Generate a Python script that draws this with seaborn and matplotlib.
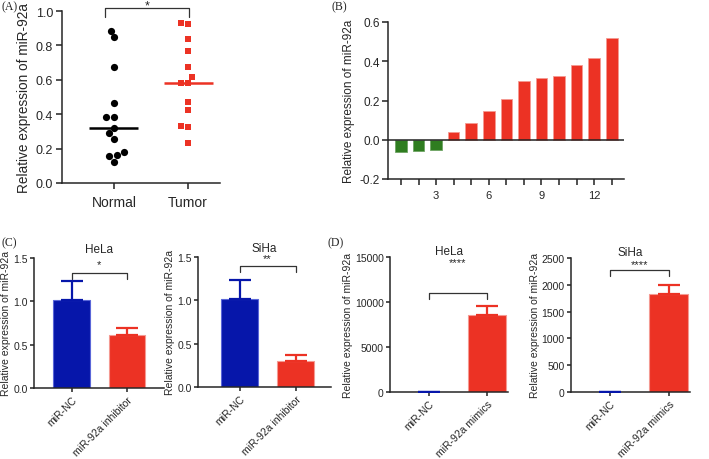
import numpy as np
import pandas as pd
import matplotlib
matplotlib.use('Agg')
import matplotlib.pyplot as plt
import seaborn as sns

# (A) relative miR-92a, normal vs tumour tissue
groups_a = ['Normal', 'Tumor']
normal_vals = [0.884, 0.846, 0.676, 0.463, 0.386, 0.382, 0.319,
               0.288, 0.255, 0.178, 0.164, 0.158, 0.125]
tumor_vals = [0.931, 0.925, 0.836, 0.766, 0.674, 0.614, 0.581,
              0.581, 0.471, 0.423, 0.332, 0.328, 0.234]

# (B) per-sample relative expression
sample_ids = list(range(1, 14))
sample_vals = [-0.063, -0.056, -0.053, 0.039, 0.085, 0.148, 0.209,
               0.298, 0.316, 0.325, 0.383, 0.417, 0.519]
b_ticklabels = ['', '', '3', '', '', '6', '', '', '9', '', '', '12', '']

# (C) inhibitor experiments
inhib_groups = ['miR-NC', 'miR-92a inhibitor']
hela_inhib_mean = [1.015, 0.612]
hela_inhib_sd = [0.225, 0.085]
siha_inhib_mean = [1.015, 0.300]
siha_inhib_sd = [0.225, 0.070]

# (D) mimics experiments
mimic_groups = ['miR-NC', 'miR-92a mimics']
hela_mimic_mean = [1.0, 8600]
hela_mimic_sd = [0.1, 1000]
siha_mimic_mean = [1.0, 1830]
siha_mimic_sd = [0.1, 160]

RED = '#EC3224'
RED_EDGE = '#F49A92'
BLUE = '#0616AA'
BLUE_EDGE = '#5A66D8'
GREEN = '#2F7D20'
YLAB = 'Relative expression of miR-92a'

sns.set_style('ticks')
plt.rcParams['font.family'] = ['Liberation Sans', 'DejaVu Sans']
plt.rcParams['axes.linewidth'] = 1.1
plt.rcParams['xtick.major.width'] = 1.1
plt.rcParams['ytick.major.width'] = 1.1

W, H = 709, 460
fig = plt.figure(figsize=(W / 100, H / 100), dpi=100)


def px_axes(left, top, right, bottom):
    return fig.add_axes([left / W, 1 - bottom / H, (right - left) / W, (bottom - top) / H])


def bracket(ax, x0, x1, y_top, y_end, label, y_text, fs=8):
    ax.plot([x0, x0, x1, x1], [y_end, y_top, y_top, y_end], color='#333333',
            lw=0.9, clip_on=False)
    ax.text((x0 + x1) / 2, y_text, label, ha='center', va='center',
            fontsize=fs, clip_on=False)


# ---------------- (A)
ax = px_axes(62, 12, 220, 184)
df_a = pd.DataFrame({'group': ['Normal'] * len(normal_vals) + ['Tumor'] * len(tumor_vals),
                     'value': normal_vals + tumor_vals})
sns.swarmplot(data=df_a[df_a.group == 'Normal'], x='group', y='value', order=groups_a,
              color='black', marker='o', size=5.2, linewidth=0, ax=ax)
sns.swarmplot(data=df_a[df_a.group == 'Tumor'], x='group', y='value', order=groups_a,
              color=RED, marker='s', size=5.0, linewidth=0, ax=ax)
for i, (g, c) in enumerate(zip(groups_a, ['black', RED])):
    med = df_a.loc[df_a.group == g, 'value'].median()
    ax.hlines(med, i - 0.33, i + 0.33, color=c, lw=1.8, zorder=5)
ax.set_xlim(-0.70, 1.43)
ax.set_ylim(0, 1.0)
ax.set_yticks(np.arange(0, 1.01, 0.2))
ax.set_yticklabels([f'{v:.1f}' for v in np.arange(0, 1.01, 0.2)])
ax.set_xlabel('')
ax.set_ylabel(YLAB, fontsize=9.8, labelpad=3)
ax.tick_params(axis='both', labelsize=9, length=4.5, pad=2, color='#222222')
ax.tick_params(axis='x', labelsize=10, pad=4)
sns.despine(ax=ax)
bracket(ax, -0.12, 1.01, 1.017, 0.965, '*', 1.03, fs=9)

# ---------------- (B)
ax = px_axes(388, 23, 624, 180)
signs = ['down' if v < 0 else 'up' for v in sample_vals]
sns.barplot(x=sample_ids, y=sample_vals, hue=signs, palette={'down': GREEN, 'up': RED},
            native_scale=True, width=0.66, legend=False, linewidth=0.6,
            saturation=1, ax=ax)
for p, s in zip(ax.patches, signs):
    p.set_edgecolor('#6FA565' if s == 'down' else RED_EDGE)
ax.axhline(0, color='#222222', lw=1.1, zorder=3)
ax.set_xlim(0.26, 13.7)
ax.set_ylim(-0.2, 0.6)
ax.set_xticks(sample_ids)
ax.set_xticklabels(b_ticklabels)
ax.set_yticks(np.arange(-0.2, 0.61, 0.2))
ax.set_yticklabels([f'{v:.1f}' for v in np.arange(-0.2, 0.61, 0.2)])
ax.set_ylabel(YLAB, fontsize=8.5, labelpad=3)
ax.tick_params(axis='both', labelsize=8.5, length=4, pad=2, color='#222222')
ax.tick_params(axis='x', labelsize=8, pad=4)
sns.despine(ax=ax)


# ---------------- (C) and (D)
def bar_panel(box, groups, means, sds, colors, edges, ylim, yticks, title,
              sig, xlim, title_pad):
    ax = px_axes(*box)
    sns.barplot(x=groups, y=means, hue=groups, palette=colors, width=0.66,
                legend=False, linewidth=0.8, saturation=1, ax=ax)
    for p, e in zip(ax.patches, edges):
        p.set_edgecolor(e)
    for i, (m, s, c) in enumerate(zip(means, sds, colors)):
        ax.errorbar(i, m, yerr=[[0], [s]], fmt='none', ecolor=c,
                    elinewidth=1.6, capsize=8, capthick=1.6, zorder=4)
    ax.set_xlim(*xlim)
    ax.set_ylim(*ylim)
    ax.set_yticks(yticks)
    ax.set_ylabel(YLAB, fontsize=7.5, labelpad=1.5)
    ax.set_title(title, fontsize=8.5, pad=title_pad)
    ax.tick_params(axis='both', labelsize=7.5, length=3, pad=1.5, color='#222222')
    ax.set_xticks(range(len(groups)))
    ax.set_xticklabels(groups, rotation=45, ha='right', rotation_mode='anchor')
    sns.despine(ax=ax)
    bracket(ax, 0, 1, *sig)
    return ax


ax = bar_panel((34, 259, 164, 389), inhib_groups, hela_inhib_mean, hela_inhib_sd,
               [BLUE, RED], [BLUE_EDGE, RED_EDGE], (0, 1.5), [0, 0.5, 1.0, 1.5], 'HeLa',
               (1.33, 1.26, '*', 1.43), (-0.68, 1.67), 4)
ax.set_yticklabels(['0.0', '0.5', '1.0', '1.5'])
ax = bar_panel((198, 258, 331, 388), inhib_groups, siha_inhib_mean, siha_inhib_sd,
               [BLUE, RED], [BLUE_EDGE, RED_EDGE], (0, 1.5), [0, 0.5, 1.0, 1.5], 'SiHa',
               (1.40, 1.33, '**', 1.49), (-0.74, 1.63), 4)
ax.set_yticklabels(['0.0', '0.5', '1.0', '1.5'])
bar_panel((390, 258, 508, 393), mimic_groups, hela_mimic_mean, hela_mimic_sd,
          [BLUE, RED], [BLUE_EDGE, RED_EDGE], (0, 15000), [0, 5000, 10000, 15000], 'HeLa',
          (11000, 10330, '****', 14400), (-0.67, 1.36), -1)
bar_panel((571, 259, 690, 393), mimic_groups, siha_mimic_mean, siha_mimic_sd,
          [BLUE, RED], [BLUE_EDGE, RED_EDGE], (0, 2500), [0, 500, 1000, 1500, 2000, 2500], 'SiHa',
          (2276, 2164, '****', 2390), (-0.66, 1.36), -1)

# panel letters
for lab, x, y in [('(A)', 2, 7), ('(B)', 331, 7), ('(C)', 2, 243), ('(D)', 327, 243)]:
    fig.text(x / W, 1 - y / H, lab, family='Liberation Serif', fontsize=8.5,
             ha='left', va='center')

fig.savefig('out.png', dpi=100)
